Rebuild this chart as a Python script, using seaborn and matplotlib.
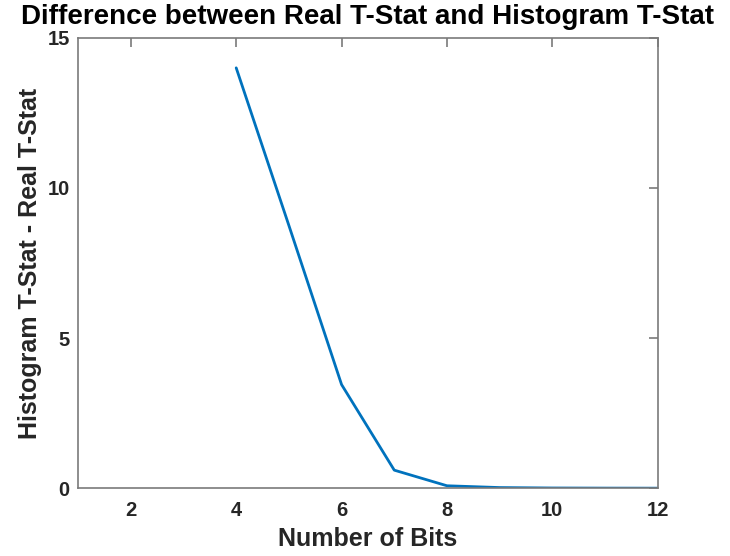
import matplotlib
matplotlib.use("Agg")
import matplotlib.pyplot as plt
import seaborn as sns
import pandas as pd

bits = [4, 5, 6, 7, 8, 9, 10, 11, 12]
diff = [14.0, 8.75, 3.45, 0.6, 0.08, 0.02, 0.006, 0.002, 0.0]
xticks = [2, 4, 6, 8, 10, 12]
yticks = [0, 5, 10, 15]

sns.set_style("white")
plt.rcParams['font.family'] = ['Liberation Sans', 'DejaVu Sans']

df = pd.DataFrame({"bits": bits, "diff": diff})
fig = plt.figure(figsize=(7.3, 5.56), dpi=100)
ax = fig.add_axes([0.107, 0.122, 0.794, 0.810])
sns.lineplot(data=df, x="bits", y="diff", ax=ax, color="#0072BD", linewidth=2)

ax.set_xlim(1, 12)
ax.set_ylim(0, 15)
ax.set_xticks(xticks)
ax.set_yticks(yticks)
edge = "#7a7a7a"
for s in ax.spines.values():
    s.set_visible(True)
    s.set_color(edge)
    s.set_linewidth(1.2)
ax.tick_params(direction="in", top=True, right=True, length=6.5, width=1.2,
               color=edge, labelsize=14.5, labelcolor="#262626", pad=6)
ax.tick_params(axis="x", pad=9)
for lab in ax.get_xticklabels() + ax.get_yticklabels():
    lab.set_fontweight("bold")
ax.set_xlabel("Number of Bits", fontsize=18, fontweight="bold", color="#262626", labelpad=5)
ax.set_ylabel("Histogram T-Stat - Real T-Stat", fontsize=18, fontweight="bold", color="#262626", labelpad=4)
ax.set_title("Difference between Real T-Stat and Histogram T-Stat", fontsize=20,
             fontweight="bold", color="#000000", pad=10)
fig.savefig("out.png", dpi=100)
